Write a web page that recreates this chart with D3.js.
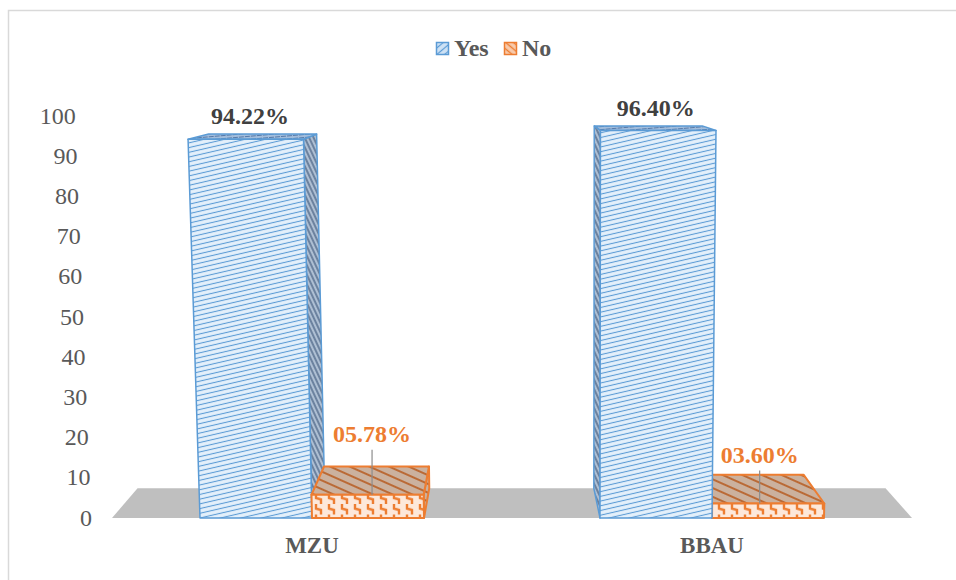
<!DOCTYPE html>
<html><head><meta charset="utf-8">
<script src="https://cdn.jsdelivr.net/npm/d3@7"></script>
<style>
html,body{margin:0;padding:0;background:#fff;}
svg{display:block;font-family:"Liberation Serif","Times New Roman",serif;}
</style></head>
<body><svg id="c" width="956" height="580"></svg>
<script>
// ---- data ----
const categories = ["MZU", "BBAU"];
const seriesNames = ["Yes", "No"];
const yesValues = [94.22, 96.40];
const noValues = [5.78, 3.60];
const yesLabels = ["94.22%", "96.40%"];
const noLabels = ["05.78%", "03.60%"];
const yTicks = [0, 10, 20, 30, 40, 50, 60, 70, 80, 90, 100];
const noLabelLift = [53, 41]; // manual label offsets (layout)

// ---- layout / projection ----
const svg = d3.select("#c");
const x0 = d3.scaleBand().domain(categories).range([112, 912]);
const x1 = d3.scaleBand().domain(seriesNames).range([0, 224]);
const y = d3.scaleLinear().domain([0, 100]).range([518, 116]);
const base = y(0);
const Xc = 586, Dsh = 12240;      // front-plane vertical convergence
const VPx = 505, VPy = 60, depth = 0.065; // vanishing point for depth
function P(x, yy, z) {
  const xs = Xc + (x - Xc) * (1 + (base - yy) / Dsh);
  const s = 1 - depth * z;
  return [VPx + s * (xs - VPx), VPy + s * (yy - VPy)];
}
const line = pts => "M" + pts.map(p => p.join(",")).join("L") + "Z";

// ---- patterns ----
const defs = svg.append("defs");
function pat(id, w, h, rot, bg, draw) {
  const p = defs.append("pattern").attr("id", id).attr("patternUnits", "userSpaceOnUse")
    .attr("width", w).attr("height", h).attr("patternTransform", "rotate(" + rot + ")");
  p.append("rect").attr("width", w).attr("height", h).attr("fill", bg);
  draw(p);
}
pat("yesFront", 10, 4.6, -13, "#e4f0fb", p => p.append("line").attr("x1", 0).attr("x2", 10).attr("y1", 2.3).attr("y2", 2.3).attr("stroke", "#5b9bd5").attr("stroke-width", 1.1));
pat("yesSide", 4, 4, 65, "#aebfd3", p => p.append("line").attr("x1", 0).attr("x2", 4).attr("y1", 2).attr("y2", 2).attr("stroke", "#4f6888").attr("stroke-width", 1.4));
pat("yesTop", 6, 3, -5, "#a2bddc", p => p.append("line").attr("x1", 0).attr("x2", 6).attr("y1", 1.5).attr("y2", 1.5).attr("stroke", "#5679a8").attr("stroke-width", 1).attr("stroke-dasharray", "3,1"));
pat("noTop", 10, 8, 24, "#cbb19e", p => p.append("line").attr("x1", 0).attr("x2", 10).attr("y1", 4).attr("y2", 4).attr("stroke", "#b8622a").attr("stroke-width", 1.8));
pat("noFront", 13, 10.5, 0, "#fde8da", p => p.append("path").attr("d", "M4,0V4.5L9,6V10.5").attr("fill", "none").attr("stroke", "#ed7d31").attr("stroke-width", 2.4));
pat("legYes", 5, 5, -40, "#cfe2f5", p => p.append("line").attr("x1", 0).attr("x2", 5).attr("y1", 2.5).attr("y2", 2.5).attr("stroke", "#5b9bd5").attr("stroke-width", 1.2));
pat("legNo", 5, 5, 40, "#f8cbad", p => p.append("line").attr("x1", 0).attr("x2", 5).attr("y1", 2.5).attr("y2", 2.5).attr("stroke", "#ed7d31").attr("stroke-width", 1.4));

// ---- frame ----
svg.append("path").attr("d", "M8.5,580V10.5H956").attr("fill", "none").attr("stroke", "#d9d9d9").attr("stroke-width", 1.5);

// ---- floor ----
svg.append("path").attr("d", line([P(112, base, 0), P(912, base, 0), P(912, base, 1), P(112, base, 1)]))
  .attr("fill", "#bfbfbf");

// ---- axis ----
const ax = svg.append("g").call(d3.axisLeft(y).tickValues(yTicks).tickSize(0).tickPadding(0));
ax.select(".domain").remove();
ax.selectAll(".tick").attr("transform", d => "translate(" + P(92, y(d), 0)[0] + "," + y(d) + ")");
ax.selectAll(".tick text").attr("fill", "#595959").attr("font-size", 24)
  .attr("font-family", "'Liberation Serif','Times New Roman',serif").attr("x", 0);

// ---- bars ----
const bars = [];
categories.forEach((c, i) => {
  const start = x0(c) + x0.bandwidth() / 2 - 112;
  bars.push({ cat: i, s: "Yes", x0: start + x1("Yes"), x1: start + x1("Yes") + x1.bandwidth(), v: yesValues[i] });
  bars.push({ cat: i, s: "No", x0: start + x1("No"), x1: start + x1("No") + x1.bandwidth(), v: noValues[i] });
});
bars.sort((a, b) => Math.abs((b.x0 + b.x1) / 2 - VPx) - Math.abs((a.x0 + a.x1) / 2 - VPx));
const gB = svg.append("g");
bars.forEach(b => {
  const yt = y(b.v);
  const isYes = b.s === "Yes";
  const stroke = isYes ? "#5b9bd5" : "#ed7d31";
  const sw = isYes ? 1.5 : 2;
  const g = gB.append("g").attr("stroke", stroke).attr("stroke-width", sw).attr("stroke-linejoin", "round");
  if (b.x1 < VPx) {
    g.append("path").attr("d", line([P(b.x1, base, 0), P(b.x1, base, 1), P(b.x1, yt, 1), P(b.x1, yt, 0)]))
      .attr("fill", isYes ? "url(#yesSide)" : "url(#noTop)");
  }
  if (b.x0 > VPx) {
    g.append("path").attr("d", line([P(b.x0, base, 0), P(b.x0, base, 1), P(b.x0, yt, 1), P(b.x0, yt, 0)]))
      .attr("fill", isYes ? "url(#yesSide)" : "url(#noTop)");
  }
  g.append("path").attr("d", line([P(b.x0, yt, 0), P(b.x1, yt, 0), P(b.x1, yt, 1), P(b.x0, yt, 1)]))
    .attr("fill", isYes ? "url(#yesTop)" : "url(#noTop)");
  g.append("path").attr("d", line([P(b.x0, base, 0), P(b.x1, base, 0), P(b.x1, yt, 0), P(b.x0, yt, 0)]))
    .attr("fill", isYes ? "url(#yesFront)" : "url(#noFront)");
});

// ---- data labels ----
categories.forEach((c, i) => {
  const start = x0(c) + x0.bandwidth() / 2 - 112;
  // Yes
  const xa = start + x1("Yes"), xb = xa + x1.bandwidth();
  const yt = y(yesValues[i]);
  const cx = (P(xa, yt, 0.25)[0] + P(xb, yt, 0.25)[0]) / 2;
  svg.append("text").attr("x", cx).attr("y", P(xa, yt, 1)[1] - 10)
    .attr("text-anchor", "middle").attr("font-size", 24).attr("font-weight", "bold")
    .attr("fill", "#404040").text(yesLabels[i]);
  // No
  const na = start + x1("No"), nb = na + x1.bandwidth();
  const nt = y(noValues[i]);
  const ncx = (P(na, nt, 0.5)[0] + P(nb, nt, 0.5)[0]) / 2;
  const ftop = P(na, nt, 0)[1];
  const by = ftop - noLabelLift[i];
  svg.append("line").attr("x1", ncx).attr("x2", ncx).attr("y1", by + 8).attr("y2", ftop)
    .attr("stroke", "#8c8c8c").attr("stroke-width", 1.2);
  svg.append("text").attr("x", ncx).attr("y", by)
    .attr("text-anchor", "middle").attr("font-size", 24).attr("font-weight", "bold")
    .attr("fill", "#ed7d31").text(noLabels[i]);
});

// ---- category labels ----
svg.append("g").selectAll("text").data(categories).join("text")
  .attr("x", d => x0(d) + x0.bandwidth() / 2).attr("y", 553)
  .attr("text-anchor", "middle").attr("font-size", 23).attr("font-weight", "bold")
  .attr("fill", "#595959").text(d => d);

// ---- legend ----
const leg = svg.append("g");
const legItems = [{ n: "Yes", x: 436, f: "url(#legYes)", s: "#5b9bd5" }, { n: "No", x: 504, f: "url(#legNo)", s: "#ed7d31" }];
legItems.forEach(l => {
  leg.append("rect").attr("x", l.x + 0.5).attr("y", 42.5).attr("width", 12).attr("height", 12)
    .attr("fill", l.f).attr("stroke", l.s).attr("stroke-width", 1.5);
  leg.append("text").attr("x", l.x + 18).attr("y", 56).attr("font-size", 24).attr("font-weight", "bold")
    .attr("fill", "#595959").text(l.n);
});
</script></body></html>
